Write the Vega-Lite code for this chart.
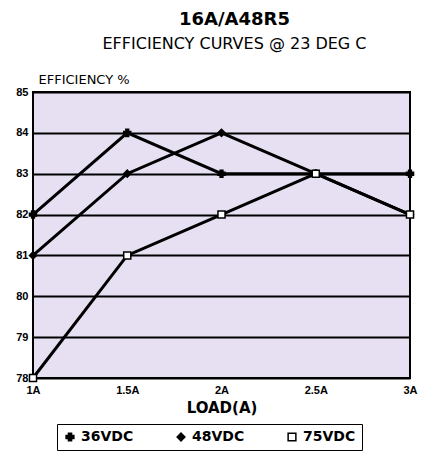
{
  "$schema": "https://vega.github.io/schema/vega-lite/v6.json",
  "width": 377,
  "height": 286,
  "autosize": {"type": "none"},
  "padding": {"left": 33, "top": 92, "right": 11, "bottom": 81},
  "background": "white",
  "title": {
    "text": "16A/A48R5",
    "subtitle": "EFFICIENCY CURVES @ 23 DEG C",
    "anchor": "middle",
    "dx": 13,
    "offset": 21,
    "font": "DejaVu Sans",
    "fontSize": 18,
    "fontWeight": "bold",
    "color": "black",
    "subtitleFont": "DejaVu Sans",
    "subtitleFontSize": 16,
    "subtitleColor": "black",
    "subtitlePadding": 7
  },
  "config": {
    "view": {"fill": "#e6e0f2", "stroke": "black", "strokeWidth": 2},
    "axis": {"labelFont": "Liberation Sans", "labelFontWeight": "bold", "labelColor": "black", "labelFontSize": 11, "titleColor": "black"}
  },
  "data": {
    "values": [
      {"load": 1, "eff": 82, "series": "36VDC"},
      {"load": 1.5, "eff": 84, "series": "36VDC"},
      {"load": 2, "eff": 83, "series": "36VDC"},
      {"load": 2.5, "eff": 83, "series": "36VDC"},
      {"load": 3, "eff": 83, "series": "36VDC"},
      {"load": 1, "eff": 81, "series": "48VDC"},
      {"load": 1.5, "eff": 83, "series": "48VDC"},
      {"load": 2, "eff": 84, "series": "48VDC"},
      {"load": 2.5, "eff": 83, "series": "48VDC"},
      {"load": 3, "eff": 82, "series": "48VDC"},
      {"load": 1, "eff": 78, "series": "75VDC"},
      {"load": 1.5, "eff": 81, "series": "75VDC"},
      {"load": 2, "eff": 82, "series": "75VDC"},
      {"load": 2.5, "eff": 83, "series": "75VDC"},
      {"load": 3, "eff": 82, "series": "75VDC"}
    ]
  },
  "encoding": {
    "x": {
      "field": "load", "type": "quantitative",
      "scale": {"domain": [1, 3], "nice": false, "zero": false},
      "axis": {
        "values": [1, 1.5, 2, 2.5, 3],
        "labelExpr": "datum.value + 'A'",
        "grid": false, "domain": false, "ticks": false,
        "labelPadding": 6,
        "labelFlush": false,
        "title": "LOAD(A)",
        "titleFont": "DejaVu Sans", "titleFontSize": 15, "titleFontWeight": "bold",
        "titlePadding": 5
      }
    },
    "y": {
      "field": "eff", "type": "quantitative",
      "scale": {"domain": [78, 85], "nice": false, "zero": false},
      "axis": {
        "values": [78, 79, 80, 81, 82, 83, 84, 85],
        "grid": true, "gridColor": "black", "gridWidth": 2, "gridOpacity": 1,
        "domain": false, "ticks": false, "labelPadding": 5,
        "title": "EFFICIENCY %",
        "titleAngle": 0, "titleAlign": "left", "titleBaseline": "alphabetic",
        "titleX": 5, "titleY": -9,
        "titleFont": "DejaVu Sans", "titleFontSize": 13, "titleFontWeight": "normal"
      }
    }
  },
  "layer": [
    {
      "mark": {"type": "line", "color": "black", "strokeWidth": 3},
      "encoding": {"detail": {"field": "series"}}
    },
    {
      "mark": {"type": "point", "size": 50, "strokeWidth": 1.5, "opacity": 1, "stroke": "black"},
      "encoding": {
        "shape": {
          "field": "series", "type": "nominal",
          "scale": {"domain": ["36VDC", "48VDC", "75VDC"], "range": ["cross", "diamond", "square"]},
          "legend": {
            "title": null,
            "orient": "none", "legendX": 24, "legendY": 332,
            "direction": "horizontal",
            "strokeColor": "black", "padding": 6,
            "columnPadding": 40,
            "labelFont": "DejaVu Sans", "labelFontSize": 14, "labelFontWeight": "bold", "labelColor": "black",
            "symbolSize": 60, "symbolStrokeWidth": 1.5,
            "encode": {"symbols": {"update": {
              "stroke": {"value": "black"},
              "strokeWidth": {"value": 1.5},
              "opacity": {"value": 1},
              "fill": {"signal": "datum.value === '75VDC' ? 'white' : 'black'"}
            }}}
          }
        },
        "fill": {
          "field": "series", "type": "nominal",
          "scale": {"domain": ["36VDC", "48VDC", "75VDC"], "range": ["black", "black", "white"]},
          "legend": null
        }
      }
    }
  ]
}
